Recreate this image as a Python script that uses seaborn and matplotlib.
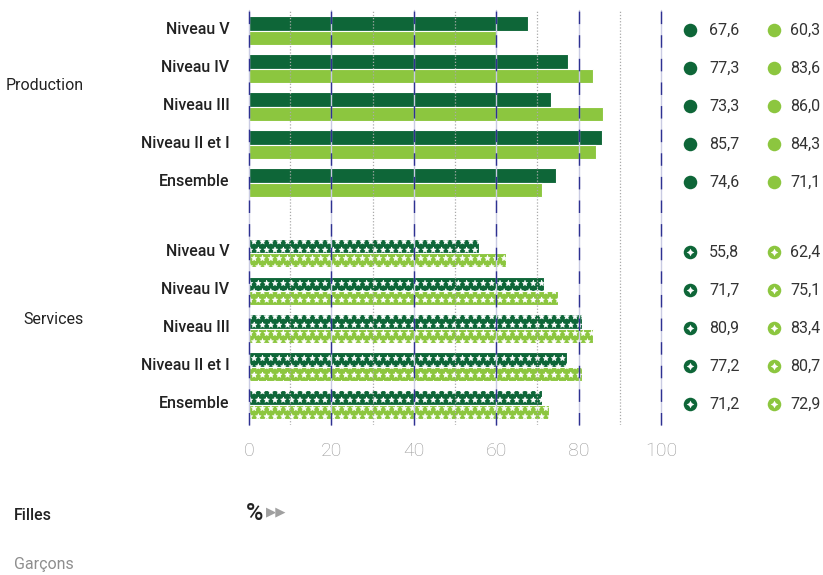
"""Taux par niveau de formation, Production / Services, Filles et Garçons."""

import matplotlib.pyplot as plt
import pandas as pd
import seaborn as sns

niveaux = ["Niveau V", "Niveau IV", "Niveau III", "Niveau II et I", "Ensemble"]
groupes = ["Production", "Services"]
production_filles = [67.6, 77.3, 73.3, 85.7, 74.6]
production_garcons = [60.3, 83.6, 86.0, 84.3, 71.1]
services_filles = [55.8, 71.7, 80.9, 77.2, 71.2]
services_garcons = [62.4, 75.1, 83.4, 80.7, 72.9]
x_ticks = [0, 20, 40, 60, 80, 100]

DARK = "#0e6638"
LIGHT = "#8cc63f"
GAP = 5.85  # position of the first Services row


def build_frame():
    rows = []
    series = {
        ("Production", "Filles"): production_filles,
        ("Production", "Garçons"): production_garcons,
        ("Services", "Filles"): services_filles,
        ("Services", "Garçons"): services_garcons,
    }
    for (groupe, sexe), values in series.items():
        base = 0 if groupe == "Production" else GAP
        for i, (niv, val) in enumerate(zip(niveaux, values)):
            rows.append(
                {"groupe": groupe, "niveau": niv, "sexe": sexe,
                 "valeur": val, "pos": base + i}
            )
    return pd.DataFrame(rows)


def main():
    sns.set_style("white")
    plt.rcParams["font.family"] = ["Roboto", "DejaVu Sans"]
    plt.rcParams["hatch.linewidth"] = 0.4

    df = build_frame()

    fig = plt.figure(figsize=(8.23, 5.75), dpi=100)
    ax = fig.add_axes([0.3026, 0.2609, 0.5006, 0.7217])

    sns.barplot(
        data=df,
        x="valeur",
        y="pos",
        hue="sexe",
        hue_order=["Filles", "Garçons"],
        palette={"Filles": DARK, "Garçons": LIGHT},
        saturation=1,
        orient="h",
        native_scale=True,
        width=0.76,
        errorbar=None,
        edgecolor="white",
        linewidth=0.8,
        legend=False,
        ax=ax,
    )
    for patch in ax.patches:
        if patch.get_y() > GAP - 1:
            patch.set_hatch("**")

    # gridlines drawn over the bars
    for x in x_ticks:
        ax.axvline(x, color="#c9cbe3", lw=1.0, zorder=4, clip_on=False)
        ax.axvline(x, color="#2e3192", lw=1.0, dashes=(9, 8), zorder=4,
                   clip_on=False)
    for x in range(10, 100, 20):
        ax.axvline(x, color="#aaaaaa", lw=0.9, ls=(0, (1, 1.5)), zorder=4)

    ax.set_xlim(0, 100)
    ax.set_ylim(GAP + 4 + 0.53, -0.55)
    ax.set_xticks(x_ticks)
    ax.set_xticklabels([str(t) for t in x_ticks], color="#999999",
                       fontsize=14, fontweight="light")

    pos = list(range(5)) + [GAP + i for i in range(5)]
    ax.set_yticks([p - 0.08 for p in pos])
    ax.set_yticklabels(niveaux * 2, fontsize=11.5, fontweight="medium",
                       color="#222222")
    ax.tick_params(axis="y", length=0, pad=14)
    ax.tick_params(axis="x", length=0, pad=12)
    ax.set_xlabel("")
    ax.set_ylabel("")
    sns.despine(ax=ax, left=True, bottom=True)

    # values column on the right
    for base, filles, garcons, starred in [
        (0, production_filles, production_garcons, False),
        (GAP, services_filles, services_garcons, True),
    ]:
        ys = [base + i - 0.02 for i in range(5)]
        for xm, xt, vals, col in [(107, 111.7, filles, DARK),
                                  (127.4, 131.3, garcons, LIGHT)]:
            ax.scatter([xm] * 5, ys, s=95, color=col, linewidths=0,
                       clip_on=False, zorder=5)
            if starred:
                ax.scatter([xm] * 5, ys, s=30, marker=(4, 1, 0), color="white",
                           linewidths=0, clip_on=False, zorder=6)
            for y, v in zip(ys, vals):
                ax.text(xt, y, f"{v:.1f}".replace(".", ","), ha="left",
                        va="center", fontsize=11.5, color="#333333",
                        clip_on=False)

    fig.text(0.102, 1 - 86 / 575, "Production", ha="right", va="center",
             fontsize=11.5, color="#222222")
    fig.text(0.102, 1 - 319 / 575, "Services", ha="right", va="center",
             fontsize=11.5, color="#222222")

    # legend area
    fig.text(14 / 823, 1 - 516 / 575, "Filles", ha="left", va="center",
             fontsize=11.5, fontweight="medium", color="#222222")
    fig.text(14 / 823, 1 - 565 / 575, "Garçons", ha="left", va="center",
             fontsize=11.5, color="#8e8e8e")
    fig.text(246 / 823, 1 - 513 / 575, "%", ha="left", va="center",
             fontsize=17, fontweight="medium", color="#222222")
    fig.text(266 / 823, 1 - 512 / 575, "▶▶", ha="left", va="center",
             fontsize=9.5, color="#a0a0a0", family="DejaVu Sans")

    fig.savefig("out.png", dpi=100)
    plt.close(fig)


if __name__ == "__main__":
    main()
